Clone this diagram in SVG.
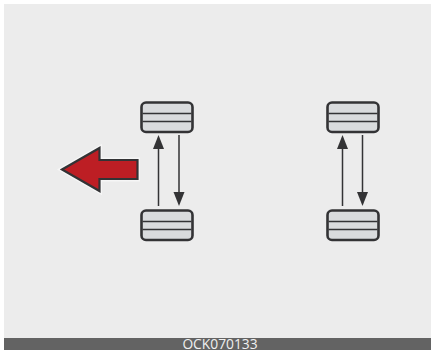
<svg xmlns="http://www.w3.org/2000/svg" width="431" height="350" viewBox="0 0 431 350">
<style>
.tyre{fill:#d9dbdd;stroke:#333335;stroke-width:2.600}
.groove{stroke:#333335;stroke-width:1.600}
.conn{stroke:#333335;stroke-width:1.500;fill:none}
.head{fill:#333335}
</style>
<defs>
<g id="w"><rect class="tyre" x="0" y="0" width="51" height="29.500" rx="4.500"/><line class="groove" x1="1" x2="50" y1="11" y2="11"/><line class="groove" x1="1" x2="50" y1="19" y2="19"/></g>
</defs>
<rect width="431" height="350" fill="#fff"/>
<rect x="4" y="4" width="427" height="334" fill="#ececec"/>
<rect x="4" y="338" width="427" height="12" fill="#636363"/>
<text x="220" y="349" font-family="'Open Sans',sans-serif" font-size="13.800" fill="#f0f0f0" text-anchor="middle">OCK070133</text>
<g id="connectors">
<line class="conn" x1="158.500" y1="206" x2="158.500" y2="148"/><polygon class="head" points="158.500,135 153,149 164,149"/>
<line class="conn" x1="179" y1="135" x2="179" y2="193"/><polygon class="head" points="179,206 173.500,192 184.500,192"/>
<line class="conn" x1="342.500" y1="206" x2="342.500" y2="148"/><polygon class="head" points="342.500,135 337,149 348,149"/>
<line class="conn" x1="362.500" y1="135" x2="362.500" y2="193"/><polygon class="head" points="362.500,206 357,192 368,192"/>
</g>
<g id="wheel-front-left"><use href="#w" x="141.500" y="102.500"/></g>
<g id="wheel-rear-left"><use href="#w" x="141.500" y="210.500"/></g>
<g id="wheel-front-right"><use href="#w" x="327.500" y="102.500"/></g>
<g id="wheel-rear-right"><use href="#w" x="327.500" y="210.500"/></g>
<g id="red-arrow"><polygon points="62,169.500 99.500,148 99.500,160 137.500,160 137.500,179 99.500,179 99.500,191" fill="#bd1e24" stroke="#f6f6f6" stroke-width="5" stroke-linejoin="miter"/><polygon points="62,169.500 99.500,148 99.500,160 137.500,160 137.500,179 99.500,179 99.500,191" fill="#bd1e24" stroke="#333335" stroke-width="2.200"/></g>
</svg>
